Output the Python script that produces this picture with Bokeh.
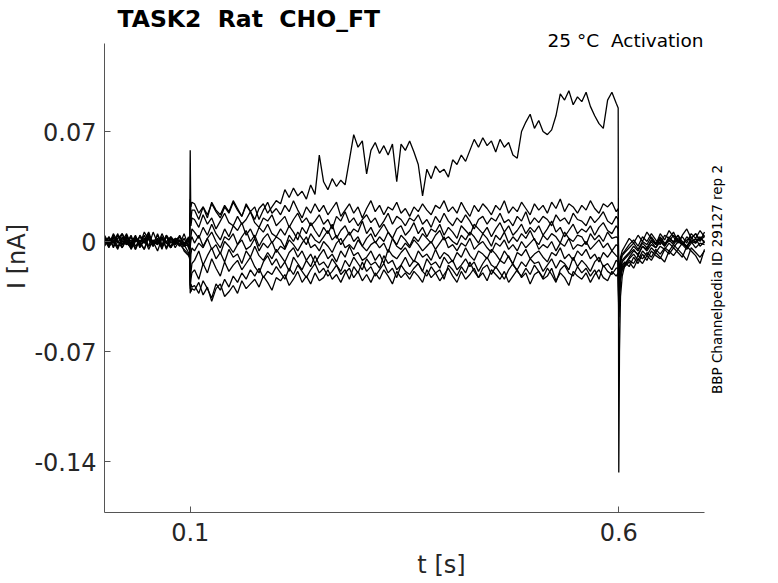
import numpy as np
from bokeh.plotting import figure
from bokeh.models import FixedTicker, Label, Range1d
from bokeh.embed import file_html
from bokeh.resources import INLINE

# ---------------- data (time in ms, current in pA; plotted as s and nA) ----------------
T_ON = [99.3, 100.0, 100.8, 102.0]
T_OFF = [599.3, 600.0, 600.8, 602.0, 604.0]
PRE_SPAN = (0, 98)
PULSE_SPAN = (105, 597)
POST_SPAN = (607, 700)

X_TICKS = [0.1, 0.6]
Y_TICKS = [-0.14, -0.07, 0, 0.07]
Y_TICK_LABELS = ["-0.14", "-0.07", "0", "0.07"]
X_TICK_LABELS = ["0.1", "0.6"]

TITLE = "TASK2 \u00a0Rat \u00a0CHO_FT"
CONDITION = "25 °C \u00a0Activation"
SOURCE = "BBP Channelpedia ID 29127 rep 2"

# sweep with large activation (rising trace)
hi_pre = [2, -3, 4, -1, 5, 0, -4, 3, -2, 6, 1, -3, 2, -5, 4, 0, -2, 3, -1, 2]
hi_on = [-2, 18, 14, 20]
hi_pulse = [20, 14, 22, 17, 24, 19, 15, 22, 18, 25,
            20, 16, 23, 19, 14, 21, 24, 18, 22, 26,
            24, 33, 28, 34, 29, 32, 27, 36, 30, 55,
            38, 33, 40, 35, 39, 36, 52, 68, 60, 64,
            43, 58, 63, 56, 61, 55, 62, 38, 62, 58,
            64, 57, 49, 29, 46, 40, 48, 44, 46, 41,
            52, 49, 55, 51, 58, 65, 60, 66, 61, 64,
            57, 65, 60, 63, 55, 53, 70, 76, 81, 72,
            77, 70, 68, 71, 80, 94, 90, 96, 87, 92,
            89, 95, 86, 80, 75, 72, 90, 95, 88]
hi_off = [85, -147, -70, -35, -22]
hi_post = [-15, -10, -6, -8, -3, -5, 0, -4, 2, -2, 3, -1, 4, 0, -3, 2, 5, 1, 3]

a_pre = [-1, 3, -4, 2, 5, -2, 1, -5, 4, 0, -3, 6, -1, 2, -4, 3, 0, -2, 5, -3]
a_on = [-4, 27, 22, 25]
a_pulse = [24, 18, 22, 15, 25, 20, 17, 23, 19, 26,
           21, 16, 24, 19, 22, 14, 20, 25, 18, 21,
           17, 23, 19, 26, 20, 15, 22, 18, 24, 19,
           23, 17, 21, 25, 16, 20, 24, 18, 22, 15,
           21, 26, 19, 23, 17, 22, 20, 25, 18, 21,
           16, 22, 19, 24, 20, 17, 23, 21, 26, 19,
           22, 18, 25, 20, 16, 23, 19, 24, 21, 17,
           23, 20, 26, 18, 22, 19, 25, 21, 17, 24,
           20, 23, 18, 25, 21, 27, 19, 24, 22, 18,
           23, 20, 26, 21, 18, 24, 22, 25, 19]
a_off = [21, -28, -18, -10, -6]
a_post = [-3, 2, -1, 4, 0, 6, 2, -2, 5, 1, 7, 3, -1, 4, 8, 2, 5, 0, 6]

b_pre = [2, -2, 5, 0, -4, 3, -1, 4, -3, 1, 6, -2, 0, 3, -5, 2, -1, 4, -2, 1]
b_on = [0, 58, 10, 15]
b_pulse = [14, 9, 17, 11, 15, 8, 13, 18, 12, 10,
           16, 11, 14, 19, 12, 9, 15, 13, 17, 10,
           13, 16, 9, 14, 18, 12, 15, 10, 13, 17,
           11, 14, 8, 16, 13, 19, 12, 15, 10, 14,
           17, 12, 15, 9, 13, 18, 11, 16, 14, 10,
           15, 13, 17, 11, 14, 9, 16, 12, 18, 13,
           10, 15, 12, 17, 13, 8, 14, 16, 11, 15,
           13, 18, 12, 14, 10, 16, 13, 19, 11, 15,
           12, 16, 14, 10, 17, 13, 15, 11, 18, 14,
           13, 10, 16, 12, 15, 19, 13, 11, 16]
b_off = [14, -33, -22, -12, -8]
b_post = [-6, -2, 1, -3, 3, 0, 5, 1, -2, 4, 2, 6, 0, 3, -1, 5, 2, 7, 3]

c_pre = [-3, 1, -1, 4, -2, 2, -5, 0, 3, -1, 5, -3, 1, -2, 4, -4, 2, 0, -3, 3]
c_on = [-6, -5, 3, 8]
c_pulse = [6, 2, 9, 4, 11, 5, 1, 8, 3, 10,
           7, 12, 4, 8, 2, 9, 6, 11, 5, 3,
           8, 4, 10, 6, 1, 9, 5, 12, 7, 3,
           9, 5, 11, 2, 7, 10, 4, 8, 6, 13,
           5, 9, 3, 7, 11, 6, 2, 8, 10, 4,
           7, 12, 5, 9, 3, 8, 6, 11, 4, 9,
           6, 2, 10, 7, 4, 11, 8, 5, 9, 3,
           8, 12, 6, 10, 4, 7, 11, 5, 9, 6,
           10, 4, 8, 13, 6, 9, 3, 7, 11, 5,
           8, 6, 10, 4, 9, 12, 7, 5, 10]
c_off = [8, -38, -25, -14, -9]
c_post = [-7, -4, -1, -5, 0, -2, 3, -1, 1, -3, 2, 0, 4, -2, 1, 3, -1, 2, 0]

d_pre = [4, -1, 2, -3, 0, 5, -2, 3, -4, 1, 2, -1, 4, -3, 0, 3, -2, 1, -6, -9]
d_on = [-10, -2, 1, 3]
d_pulse = [-1, 4, -3, 2, 6, 0, -4, 3, 1, 5,
           -2, 3, 7, 0, 4, -3, 2, 5, -1, 3,
           1, -4, 4, 0, 6, 2, -2, 5, 1, -1,
           3, 7, 1, 4, -2, 2, 6, 0, 3, -3,
           2, 5, -1, 3, 0, 6, 2, -2, 4, 1,
           -3, 3, 0, 5, 2, -1, 4, 7, 1, 3,
           0, -2, 4, 1, 6, 3, -1, 5, 2, -3,
           4, 1, 6, -1, 3, 0, 5, 2, 7, 1,
           -2, 4, 1, 5, 3, -1, 6, 2, 0, 4,
           3, -2, 5, 1, 4, 0, 6, 2, 3]
d_off = [2, -42, -30, -18, -12]
d_post = [-10, -7, -3, -6, -1, -4, 1, -2, 3, -1, 0, 4, 1, -2, 3, 0, -1, 2, 4]

e_pre = [1, -4, 3, 0, -2, 4, -3, 2, -1, -5, 3, 0, -2, 5, -1, 2, -4, 1, -3, -2]
e_on = [-5, -20, -8, -4]
e_pulse = [-6, -1, -4, 2, -5, -2, -8, 0, -3, -7,
           -2, 1, -5, -3, 2, -6, -1, -4, 0, -7,
           -3, -5, 1, -2, -6, -1, 3, -4, -2, -6,
           0, -3, -7, -1, 2, -4, -2, -5, 1, -3,
           -6, -2, 0, -4, -1, -7, 2, -3, -5, -1,
           -4, 1, -2, -6, -3, 0, -5, -1, 3, -4,
           -2, -6, -1, -3, 2, -5, -2, 0, -4, -7,
           -1, -3, 1, -5, -2, -6, 0, -4, -1, 2,
           -5, -2, -4, 0, -6, -1, -3, 2, -5, -2,
           -3, 0, -5, -2, 1, -4, -1, -6, -2]
e_off = [-3, -45, -32, -20, -13]
e_post = [-11, -8, -5, -9, -3, -6, -2, -4, 0, -3, 1, -2, 2, -1, -4, 1, 0, 3, -1]

f_pre = [-2, 3, -1, 5, -4, 1, -3, 2, 0, -5, 4, -2, 1, -4, 3, -1, 0, -3, 2, -4]
f_on = [-6, -28, -20, -14]
f_pulse = [-12, -6, -15, -9, -4, -11, -7, -13, -5, -10,
           -8, -14, -6, -10, -3, -9, -12, -7, -11, -5,
           -9, -13, -7, -4, -10, -6, -12, -8, -14, -9,
           -5, -11, -8, -13, -6, -10, -3, -9, -7, -12,
           -10, -6, -12, -8, -14, -5, -9, -11, -7, -4,
           -9, -13, -6, -10, -8, -12, -5, -11, -7, -9,
           -13, -7, -10, -4, -9, -12, -6, -8, -11, -5,
           -8, -12, -6, -10, -14, -7, -9, -5, -11, -8,
           -6, -10, -13, -7, -9, -4, -11, -8, -12, -6,
           -9, -5, -11, -8, -13, -7, -10, -6, -9]
f_off = [-10, -52, -36, -24, -16]
f_post = [-14, -11, -8, -12, -6, -9, -4, -7, -3, -5, -1, -4, 0, -2, -5, -1, 2, -3, 0]

g_pre = [3, -2, 1, -4, 2, -1, 4, -3, 0, 2, -5, 1, -2, 3, -1, -4, 2, 0, -3, 1]
g_on = [-3, -30, -24, -20]
g_pulse = [-18, -24, -14, -20, -11, -17, -22, -13, -19, -15,
           -12, -18, -14, -10, -16, -20, -13, -9, -15, -11,
           -17, -13, -19, -10, -14, -18, -12, -16, -9, -15,
           -13, -17, -11, -15, -19, -12, -16, -10, -14, -18,
           -11, -15, -13, -17, -9, -14, -12, -18, -15, -10,
           -16, -12, -14, -19, -11, -15, -13, -17, -10, -14,
           -12, -18, -15, -11, -16, -13, -19, -14, -10, -15,
           -17, -12, -14, -9, -15, -18, -13, -16, -11, -14,
           -13, -19, -15, -11, -17, -12, -14, -18, -10, -16,
           -12, -15, -19, -13, -10, -16, -14, -18, -12]
g_off = [-13, -48, -34, -22, -17]
g_post = [-15, -12, -14, -9, -11, -7, -10, -5, -8, -4, -6, -2, -5, -1, -3, 0, -4, -1, -2]

h_pre = [-1, 2, -3, 4, 0, -2, 3, -5, 1, -1, 2, -3, 5, -2, 0, -4, 1, 3, -2, -7]
h_on = [-9, -33, -27, -29]
h_pulse = [-28, -33, -25, -30, -36, -27, -31, -24, -29, -22,
           -26, -20, -24, -18, -22, -17, -23, -19, -21, -16,
           -20, -24, -17, -21, -15, -19, -23, -18, -14, -20,
           -17, -22, -19, -15, -21, -18, -24, -16, -20, -13,
           -19, -16, -22, -18, -14, -20, -17, -23, -15, -19,
           -21, -17, -14, -19, -22, -16, -20, -18, -24, -15,
           -18, -22, -16, -20, -13, -19, -23, -17, -15, -21,
           -16, -20, -24, -18, -14, -19, -22, -17, -21, -15,
           -19, -23, -17, -21, -26, -18, -15, -20, -22, -16,
           -20, -17, -22, -18, -24, -15, -19, -21, -17]
h_off = [-17, -40, -30, -21, -15]
h_post = [-13, -16, -10, -14, -8, -12, -6, -9, -11, -5, -8, -4, -7, -10, -3, -6, -9, -14, -5]

i_pre = [2, -3, 0, -5, 3, -1, -4, 1, -2, 4, -3, 0, -6, 2, -1, -3, 1, -2, -5, -8]
i_on = [-11, -25, -32, -30]
i_pulse = [-31, -26, -34, -29, -38, -30, -27, -35, -32, -28,
           -33, -25, -30, -27, -24, -29, -22, -26, -31, -23,
           -25, -21, -28, -24, -19, -26, -22, -27, -20, -25,
           -23, -18, -24, -21, -26, -20, -17, -23, -19, -25,
           -21, -26, -20, -24, -18, -22, -27, -19, -23, -20,
           -24, -19, -22, -26, -18, -23, -20, -25, -21, -17,
           -22, -26, -19, -24, -21, -17, -23, -20, -25, -18,
           -21, -24, -19, -26, -22, -18, -23, -20, -27, -21,
           -19, -24, -22, -17, -25, -20, -23, -28, -19, -22,
           -24, -20, -26, -21, -18, -23, -25, -19, -22]
i_off = [-20, -44, -33, -24, -18]
i_post = [-16, -13, -17, -11, -14, -9, -12, -7, -10, -13, -6, -9, -5, -8, -12, -4, -7, -10, -6]

SWEEPS = [
    (i_pre, i_on, i_pulse, i_off, i_post),
    (h_pre, h_on, h_pulse, h_off, h_post),
    (g_pre, g_on, g_pulse, g_off, g_post),
    (f_pre, f_on, f_pulse, f_off, f_post),
    (e_pre, e_on, e_pulse, e_off, e_post),
    (d_pre, d_on, d_pulse, d_off, d_post),
    (c_pre, c_on, c_pulse, c_off, c_post),
    (b_pre, b_on, b_pulse, b_off, b_post),
    (a_pre, a_on, a_pulse, a_off, a_post),
    (hi_pre, hi_on, hi_pulse, hi_off, hi_post),
]

X_LIMITS = (0.0, 0.7)
Y_LIMITS = (-0.17245, 0.126)

# ---------------- figure ----------------
W, H = 778, 583
FRAME_LEFT, FRAME_BOTTOM = 104, 512
PX_PER_X = 857.14   # pixels per second
PX_PER_Y = 1571.4   # pixels per nA
Y0_PX = 241         # pixel row of I = 0

x_right = (W - FRAME_LEFT) / PX_PER_X
y_top = Y0_PX / PX_PER_Y

p = figure(width=W, height=H, output_backend="svg", toolbar_location=None, title=None,
           x_range=Range1d(X_LIMITS[0], x_right), y_range=Range1d(Y_LIMITS[0], y_top),
           min_border_left=FRAME_LEFT, min_border_right=0, min_border_top=0,
           min_border_bottom=H - FRAME_BOTTOM)
p.outline_line_color = None
p.xgrid.visible = False
p.ygrid.visible = False
p.background_fill_color = "white"
p.border_fill_color = "white"

for pre, on, pulse, off, post in SWEEPS:
    t = np.concatenate([
        np.linspace(PRE_SPAN[0], PRE_SPAN[1], len(pre)), T_ON,
        np.linspace(PULSE_SPAN[0], PULSE_SPAN[1], len(pulse)), T_OFF,
        np.linspace(POST_SPAN[0], POST_SPAN[1], len(post))]) / 1000.0
    v = np.array(list(pre) + list(on) + list(pulse) + list(off) + list(post), dtype=float) / 1000.0
    p.line(t, v, line_color="black", line_width=1.3)

AX = "#555555"
LBL = "#262626"
for ax, ticks, labels in ((p.xaxis[0], X_TICKS, X_TICK_LABELS), (p.yaxis[0], Y_TICKS, Y_TICK_LABELS)):
    ax.ticker = FixedTicker(ticks=ticks)
    ax.major_label_overrides = {tk: lb for tk, lb in zip(ticks, labels)}
    ax.minor_tick_line_color = None
    ax.major_tick_in = 6
    ax.major_tick_out = 0
    ax.axis_line_color = AX
    ax.major_tick_line_color = AX
    ax.major_label_text_font = "DejaVu Sans"
    ax.major_label_text_font_size = "24px"
    ax.major_label_text_color = LBL
    ax.axis_label_text_font = "DejaVu Sans"
    ax.axis_label_text_font_size = "24px"
    ax.axis_label_text_font_style = "normal"
    ax.axis_label_text_color = LBL
p.xaxis[0].bounds = X_LIMITS
p.yaxis[0].bounds = Y_LIMITS
p.yaxis[0].major_label_standoff = 8
p.xaxis[0].major_label_standoff = 10
p.yaxis[0].axis_label = "I [nA]"
p.xaxis[0].axis_label = "t [s]"
p.yaxis[0].axis_label_standoff = 0
p.xaxis[0].axis_label_standoff = 7


def px_to_x(px):
    return (px - FRAME_LEFT) / PX_PER_X


def py_to_y(py):
    return (Y0_PX - py) / PX_PER_Y


p.add_layout(Label(x=px_to_x(117), y=py_to_y(18.5), text=TITLE,
                   text_font="DejaVu Sans", text_font_size="23.5px", text_font_style="bold",
                   text_color="black", text_align="left", text_baseline="middle"))
p.add_layout(Label(x=px_to_x(703), y=py_to_y(40), text=CONDITION,
                   text_font="DejaVu Sans", text_font_size="18.5px",
                   text_color="black", text_align="right", text_baseline="middle"))
p.add_layout(Label(x=px_to_x(716), y=py_to_y(279), text=SOURCE,
                   text_font="DejaVu Sans", text_font_size="13.5px", angle=np.pi / 2,
                   text_color="black", text_align="center", text_baseline="middle"))

open("out.html", "w").write(file_html(p, INLINE))
